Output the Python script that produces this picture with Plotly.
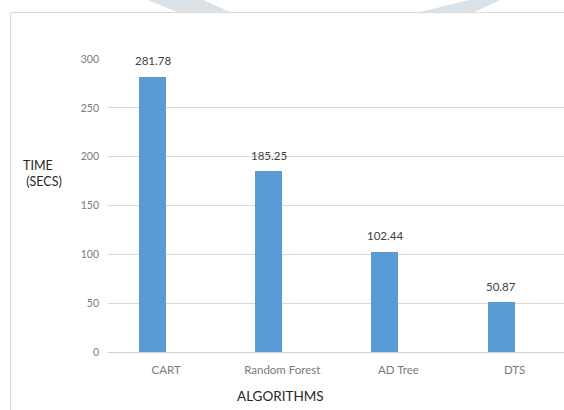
import plotly.graph_objects as go

categories = ["CART", "Random Forest", "AD Tree", "DTS"]
times = [281.78, 185.25, 102.44, 50.87]
label_texts = ["281.78", "185.25", "102.44", "50.87"]
y_ticks = [0, 50, 100, 150, 200, 250, 300]

W, H = 564, 410
L, R, T, B = 107.5, 0, 59, 57.5
PW, PH = W - L - R, H - T - B

def px(x):
    return (x - L) / PW

def py(y):
    return (H - B - y) / PH

FONT = "Lato, 'Open Sans', sans-serif"

fig = go.Figure()
fig.add_trace(go.Bar(
    x=categories, y=times,
    marker=dict(color="#5b9bd5", line=dict(width=0)),
    width=0.232, offset=-0.232,
    hoverinfo="skip",
))

annotations = []
for c, v, t in zip(categories, times, label_texts):
    annotations.append(dict(
        x=c, y=v, xref="x", yref="y", text=t, showarrow=False,
        xanchor="center", yanchor="bottom", xshift=-13.5, yshift=7.5,
        font=dict(family=FONT, size=11.5, color="#404040"),
    ))
annotations += [
    dict(x=px(20), y=py(174), xref="paper", yref="paper", text="TIME<br> (SECS)",
         showarrow=False, xanchor="left", yanchor="middle", align="left",
         font=dict(family=FONT, size=12.5, color="#262626")),
    dict(x=px(280), y=py(397), xref="paper", yref="paper", text="ALGORITHMS",
         showarrow=False, xanchor="center", yanchor="middle",
         font=dict(family=FONT, size=13.5, color="#262626")),
]

shapes = [
    # chart frame
    dict(type="rect", xref="paper", yref="paper",
         x0=px(10), x1=px(580), y0=py(12.5), y1=py(430),
         line=dict(color="#d9d9d9", width=1), fillcolor="rgba(0,0,0,0)", layer="below"),
    # page watermark fragments at the top
    dict(type="path", xref="paper", yref="paper",
         path=f"M {px(147)},{py(0)} L {px(203)},{py(0)} L {px(230)},{py(12)} L {px(177)},{py(12)} Z",
         fillcolor="#dbe2e7", line=dict(width=0), layer="below"),
    dict(type="path", xref="paper", yref="paper",
         path=f"M {px(469)},{py(0)} L {px(500)},{py(0)} L {px(474)},{py(12)} L {px(420)},{py(12)} Z",
         fillcolor="#dbe2e7", line=dict(width=0), layer="below"),
]

fig.update_layout(
    width=W, height=H,
    margin=dict(l=L, r=R, t=T, b=B, pad=0),
    paper_bgcolor="white", plot_bgcolor="rgba(0,0,0,0)",
    showlegend=False,
    annotations=annotations,
    shapes=shapes,
    bargap=0,
    xaxis=dict(
        type="category", range=[-0.5, -0.5 + PW / 116.3],
        showgrid=False, zeroline=False, showline=False, ticks="",
        tickfont=dict(family=FONT, size=11.5, color="#7a7a7a"),
        ticklabelstandoff=9,
    ),
    yaxis=dict(
        range=[0, 300], tickvals=y_ticks,
        showgrid=True, gridcolor="#d9d9d9", gridwidth=1,
        zeroline=True, zerolinecolor="#d0d0d0", zerolinewidth=1,
        showline=False, ticks="",
        tickfont=dict(family=FONT, size=10.5, color="#7a7a7a"),
        ticklabelstandoff=8,
    ),
)

fig.write_html("out.html")
